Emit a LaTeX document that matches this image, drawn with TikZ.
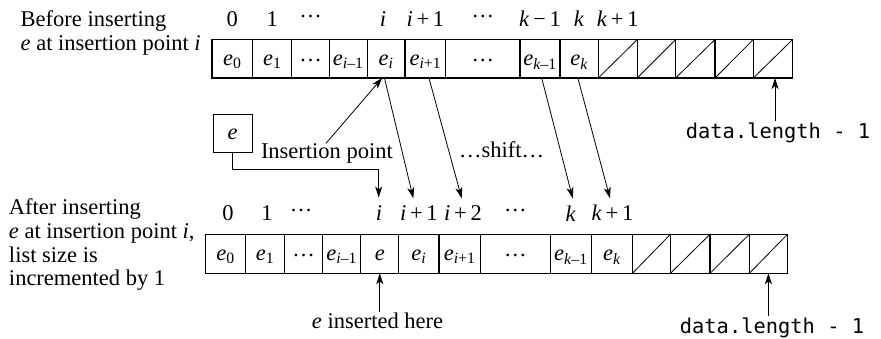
\documentclass[tikz,border=0pt]{standalone}
\usepackage{fontspec}
\setmainfont{Liberation Serif}
\newfontfamily\dlmono{DejaVu Sans Mono}
\usetikzlibrary{arrows.meta}
\newcommand{\ev}[1]{\textit{e}\textsubscript{#1}}
\newcommand{\myhdots}{\raisebox{0.42em}{…}}
\newcommand{\mycdots}{\raisebox{0.15em}{…}}
\begin{document}
\begin{tikzpicture}[x=1pt,y=-1pt,
  every node/.style={inner sep=0pt,outer sep=0pt},
  font=\fontsize{22.5}{23.5}\selectfont,
  cell/.style={draw,line width=1.1pt,text height=13pt,text depth=0pt},
  arr/.style={line width=0.8pt,-{Stealth[length=11pt,width=7pt,inset=3pt]}},
  plain/.style={line width=0.8pt},
  idx/.style={anchor=base},
  dl/.style={anchor=base,font=\dlmono\fontsize{20.4}{22}\selectfont,inner sep=2pt}]
\useasboundingbox (0,0) rectangle (881,339);

% top array
\foreach \a/\b/\n/\t in {212/252.7/t1/{\ev{0}}, 252.7/291.7/t2/{\ev{1}},
   291.7/329.3/t3/{\mycdots}, 329.3/367.3/t4/{\ev{\textit{i}–1}},
   367.3/405/t5/{\ev{\textit{i}}}, 405/445.7/t6/{\ev{\textit{i}+1}},
   445.7/520/t7/{\mycdots}, 520/560/t8/{\ev{\textit{k}–1}},
   560/598.3/t9/{\ev{\textit{k}}}, 598.3/637.3/t10/{}, 637.3/675.7/t11/{},
   675.7/715/t12/{}, 715/753.3/t13/{}, 753.3/792.7/t14/{}}
  \node[cell,minimum width={(\b-\a)*1pt},minimum height=38.5pt] (\n) at ({(\a+\b)/2},58.75) {\t};
\foreach \n in {t10,t11,t12,t13,t14}
  \draw[plain] (\n.south west) -- (\n.north east);

% bottom array
\foreach \a/\b/\n/\t in {205.5/245.7/b1/{\ev{0}}, 245.7/284.3/b2/{\ev{1}},
   284.3/322.7/b3/{\mycdots}, 322.7/360.8/b4/{\ev{\textit{i}–1}},
   360.8/398.7/b5/{\textit{e}}, 398.7/439/b6/{\ev{\textit{i}}},
   439/480.2/b7/{\ev{\textit{i}+1}}, 480.2/550.4/b8/{\mycdots},
   550.4/591.4/b9/{\ev{\textit{k}–1}}, 591.4/632.5/b10/{\ev{\textit{k}}},
   632.5/670.4/b11/{}, 670.4/710/b12/{}, 710/749.3/b13/{}, 749.3/787.5/b14/{}}
  \node[cell,minimum width={(\b-\a)*1pt},minimum height=39pt] (\n) at ({(\a+\b)/2},253.8) {\t};
\foreach \n in {b11,b12,b13,b14}
  \draw[plain] (\n.south west) -- (\n.north east);

% top indices
\node[idx] (ti1) at (232.35,26.5) {0};
\node[idx] (ti2) at (272.2,26.5) {1};
\node[idx] (ti3) at (310.5,26.5) {\myhdots};
\node[idx] (ti5) at (383,26.5) {\textit{i}};
\node[idx] (ti6) at (425.35,26.5) {\textit{i}\,+\,1};
\node[idx] (ti7) at (482.85,26.5) {\myhdots};
\node[idx] (ti8) at (540,26.5) {\textit{k}\,−\,1};
\node[idx] (ti9) at (579.15,26.5) {\textit{k}};
\node[idx] (ti10) at (617.8,26.5) {\textit{k}\,+\,1};

% bottom indices
\node[idx] (bi1) at (228,221) {0};
\node[idx] (bi2) at (267,221) {1};
\node[idx] (bi3) at (301,221) {\myhdots};
\node[idx] (bi5) at (379,221) {\textit{i}};
\node[idx] (bi6) at (418.85,221) {\textit{i}\,+\,1};
\node[idx] (bi7) at (463,221) {\textit{i}\,+\,2};
\node[idx] (bi8) at (515.3,221) {\myhdots};
\node[idx] (bi9) at (570.9,222) {\textit{k}};
\node[idx] (bi10) at (612.5,221) {\textit{k}\,+\,1};

% left texts (base anchor = last line)
\node[anchor=base west,align=left] (before) at (20.7,50.5)
  {Before inserting\\\textit{e} at insertion point \textit{i}};
\node[anchor=base west,align=left] (after) at (9,285.5)
  {After inserting\\\textit{e} at insertion point \textit{i},\\list size is\\incremented by 1};

% element e box
\node[draw,line width=1.1pt,minimum width=39pt,minimum height=38.5pt,text height=13pt,text depth=0pt] (ebox) at (232.7,133.5) {\textit{e}};

% labels
\node[anchor=base west] (ipl) at (261,158.3) {Insertion point};
\node[anchor=base] (shl) at (501.7,157.3) {…shift…};
\node[anchor=base,inner sep=1pt] (ins) at (377.5,328.3) {\textit{e} inserted here};
\node[dl] (dltop) at (778,138.3) {data.length - 1};
\node[dl] (dlbot) at (772,333.3) {data.length - 1};

% coordinates for arrow tips
\coordinate (ltip) at (378.7,197.5);
\coordinate (s1) at (413.3,198.3);
\coordinate (s2) at (461.7,198.3);
\coordinate (s3) at (572.7,198.3);
\coordinate (s4) at (610,198.3);

% connectors
\draw[arr] ([xshift=-1pt]ipl.north) -- ([xshift=-4pt]t5.south);
\draw[arr] (ebox.south) -- ++(0,16.3) -| (ltip);
\draw[arr] ([xshift=-1.7pt]t5.south) -- (s1);
\draw[arr] ([xshift=3.6pt]t6.south) -- (s2);
\draw[arr] ([xshift=1.7pt]t8.south) -- (s3);
\draw[arr] ([xshift=-1.3pt]t9.south) -- (s4);
\draw[arr] ([xshift=2pt]dltop.north -| t14.south) -- ([xshift=2pt]t14.south);
\draw[arr] (dlbot.north -| b14.south) -- (b14.south);
\draw[arr] (ins.north -| b5.south) -- (b5.south);
\end{tikzpicture}
\end{document}
